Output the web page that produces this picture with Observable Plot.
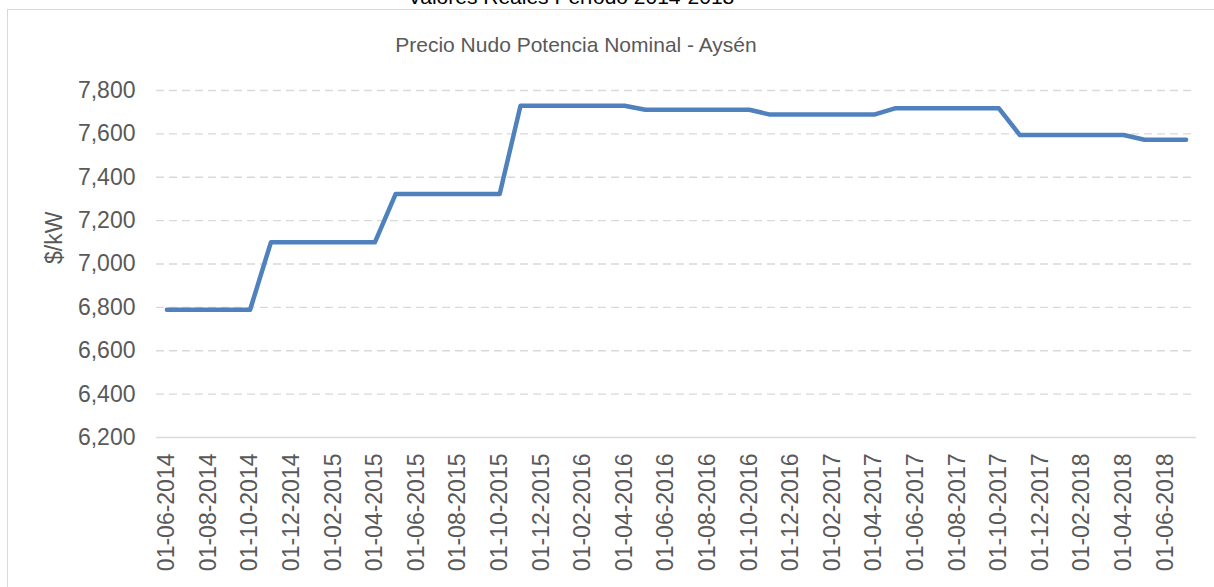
<!DOCTYPE html>
<html>
<head>
<meta charset="utf-8">
<script src="https://cdn.jsdelivr.net/npm/d3@7"></script>
<script src="https://cdn.jsdelivr.net/npm/@observablehq/plot@0.6"></script>
<style>
  html, body { margin: 0; padding: 0; background: #fff; }
  #wrap { position: relative; width: 1214px; height: 587px; overflow: hidden; font-family: "Liberation Sans", Arial, sans-serif; }
  #frame { position: absolute; left: 7px; top: 9px; width: 1300px; height: 700px; border-left: 1.5px solid #d9d9d9; border-top: 1.5px solid #d9d9d9; }
  #title { position: absolute; left: 0; width: 1142px; top: -14px; text-align: center; font-size: 21px; line-height: 21px; color: #000; }
  #subtitle { position: absolute; left: 0; width: 1152px; top: 34px; text-align: center; font-size: 21px; line-height: 21px; color: #595959; }
  #chart { position: absolute; left: 0; top: 0; }
</style>
</head>
<body>
<div id="wrap">
  <div id="frame"></div>
  <div id="title">Valores Reales Período 2014-2018</div>
  <div id="subtitle">Precio Nudo Potencia Nominal - Aysén</div>
  <div id="chart"></div>
</div>
<script>
const months = [
  "01-06-2014","01-07-2014","01-08-2014","01-09-2014","01-10-2014","01-11-2014","01-12-2014",
  "01-01-2015","01-02-2015","01-03-2015","01-04-2015","01-05-2015","01-06-2015","01-07-2015",
  "01-08-2015","01-09-2015","01-10-2015","01-11-2015","01-12-2015",
  "01-01-2016","01-02-2016","01-03-2016","01-04-2016","01-05-2016","01-06-2016","01-07-2016",
  "01-08-2016","01-09-2016","01-10-2016","01-11-2016","01-12-2016",
  "01-01-2017","01-02-2017","01-03-2017","01-04-2017","01-05-2017","01-06-2017","01-07-2017",
  "01-08-2017","01-09-2017","01-10-2017","01-11-2017","01-12-2017",
  "01-01-2018","01-02-2018","01-03-2018","01-04-2018","01-05-2018","01-06-2018","01-07-2018"
];
const precio = [
  6789, 6789, 6789, 6789, 6789, 7100, 7100,
  7100, 7100, 7100, 7100, 7323, 7323, 7323,
  7323, 7323, 7323, 7730, 7730,
  7730, 7730, 7730, 7730, 7711, 7711, 7711,
  7711, 7711, 7711, 7689, 7689,
  7689, 7689, 7689, 7689, 7718, 7718, 7718,
  7718, 7718, 7718, 7595, 7595,
  7595, 7595, 7595, 7595, 7573, 7573, 7573
];
const xTickLabels = [
  "01-06-2014","01-08-2014","01-10-2014","01-12-2014","01-02-2015","01-04-2015","01-06-2015",
  "01-08-2015","01-10-2015","01-12-2015","01-02-2016","01-04-2016","01-06-2016","01-08-2016",
  "01-10-2016","01-12-2016","01-02-2017","01-04-2017","01-06-2017","01-08-2017","01-10-2017",
  "01-12-2017","01-02-2018","01-04-2018","01-06-2018"
];
const yTicks = [6200, 6400, 6600, 6800, 7000, 7200, 7400, 7600, 7800];
const yLabel = "$/kW";

const rows = months.map((m, i) => ({mes: m, valor: precio[i]}));

const chart = Plot.plot({
  width: 1214,
  height: 587,
  marginLeft: 156,
  marginRight: 18,
  marginTop: 90,
  marginBottom: 150,
  style: {fontFamily: "'Liberation Sans', Arial, sans-serif", fontSize: "23px", color: "#595959", background: "transparent"},
  x: {type: "point", domain: months, padding: 0.5},
  y: {domain: [6200, 7800]},
  marks: [
    Plot.gridY(yTicks.slice(1), {stroke: "#d9d9d9", strokeOpacity: 1, strokeDasharray: "8,5", strokeWidth: 1.3}),
    Plot.ruleY([6200], {stroke: "#d9d9d9", strokeWidth: 1.5}),
    Plot.axisY(yTicks, {tickSize: 0, tickPadding: 21, tickFormat: d3.format(","), fill: "#595959", label: null}),
    Plot.axisX(xTickLabels, {tickSize: 0, tickRotate: -90, tickPadding: 16, fill: "#595959", label: null}),
    Plot.line(rows, {x: "mes", y: "valor", stroke: "#4f81bd", strokeWidth: 4.5, strokeLinecap: "round", strokeLinejoin: "round"}),
    Plot.text([yLabel], {frameAnchor: "left", rotate: -90, dx: -102, fontSize: 23, fill: "#595959"})
  ]
});
document.getElementById("chart").appendChild(chart);
</script>
</body>
</html>
